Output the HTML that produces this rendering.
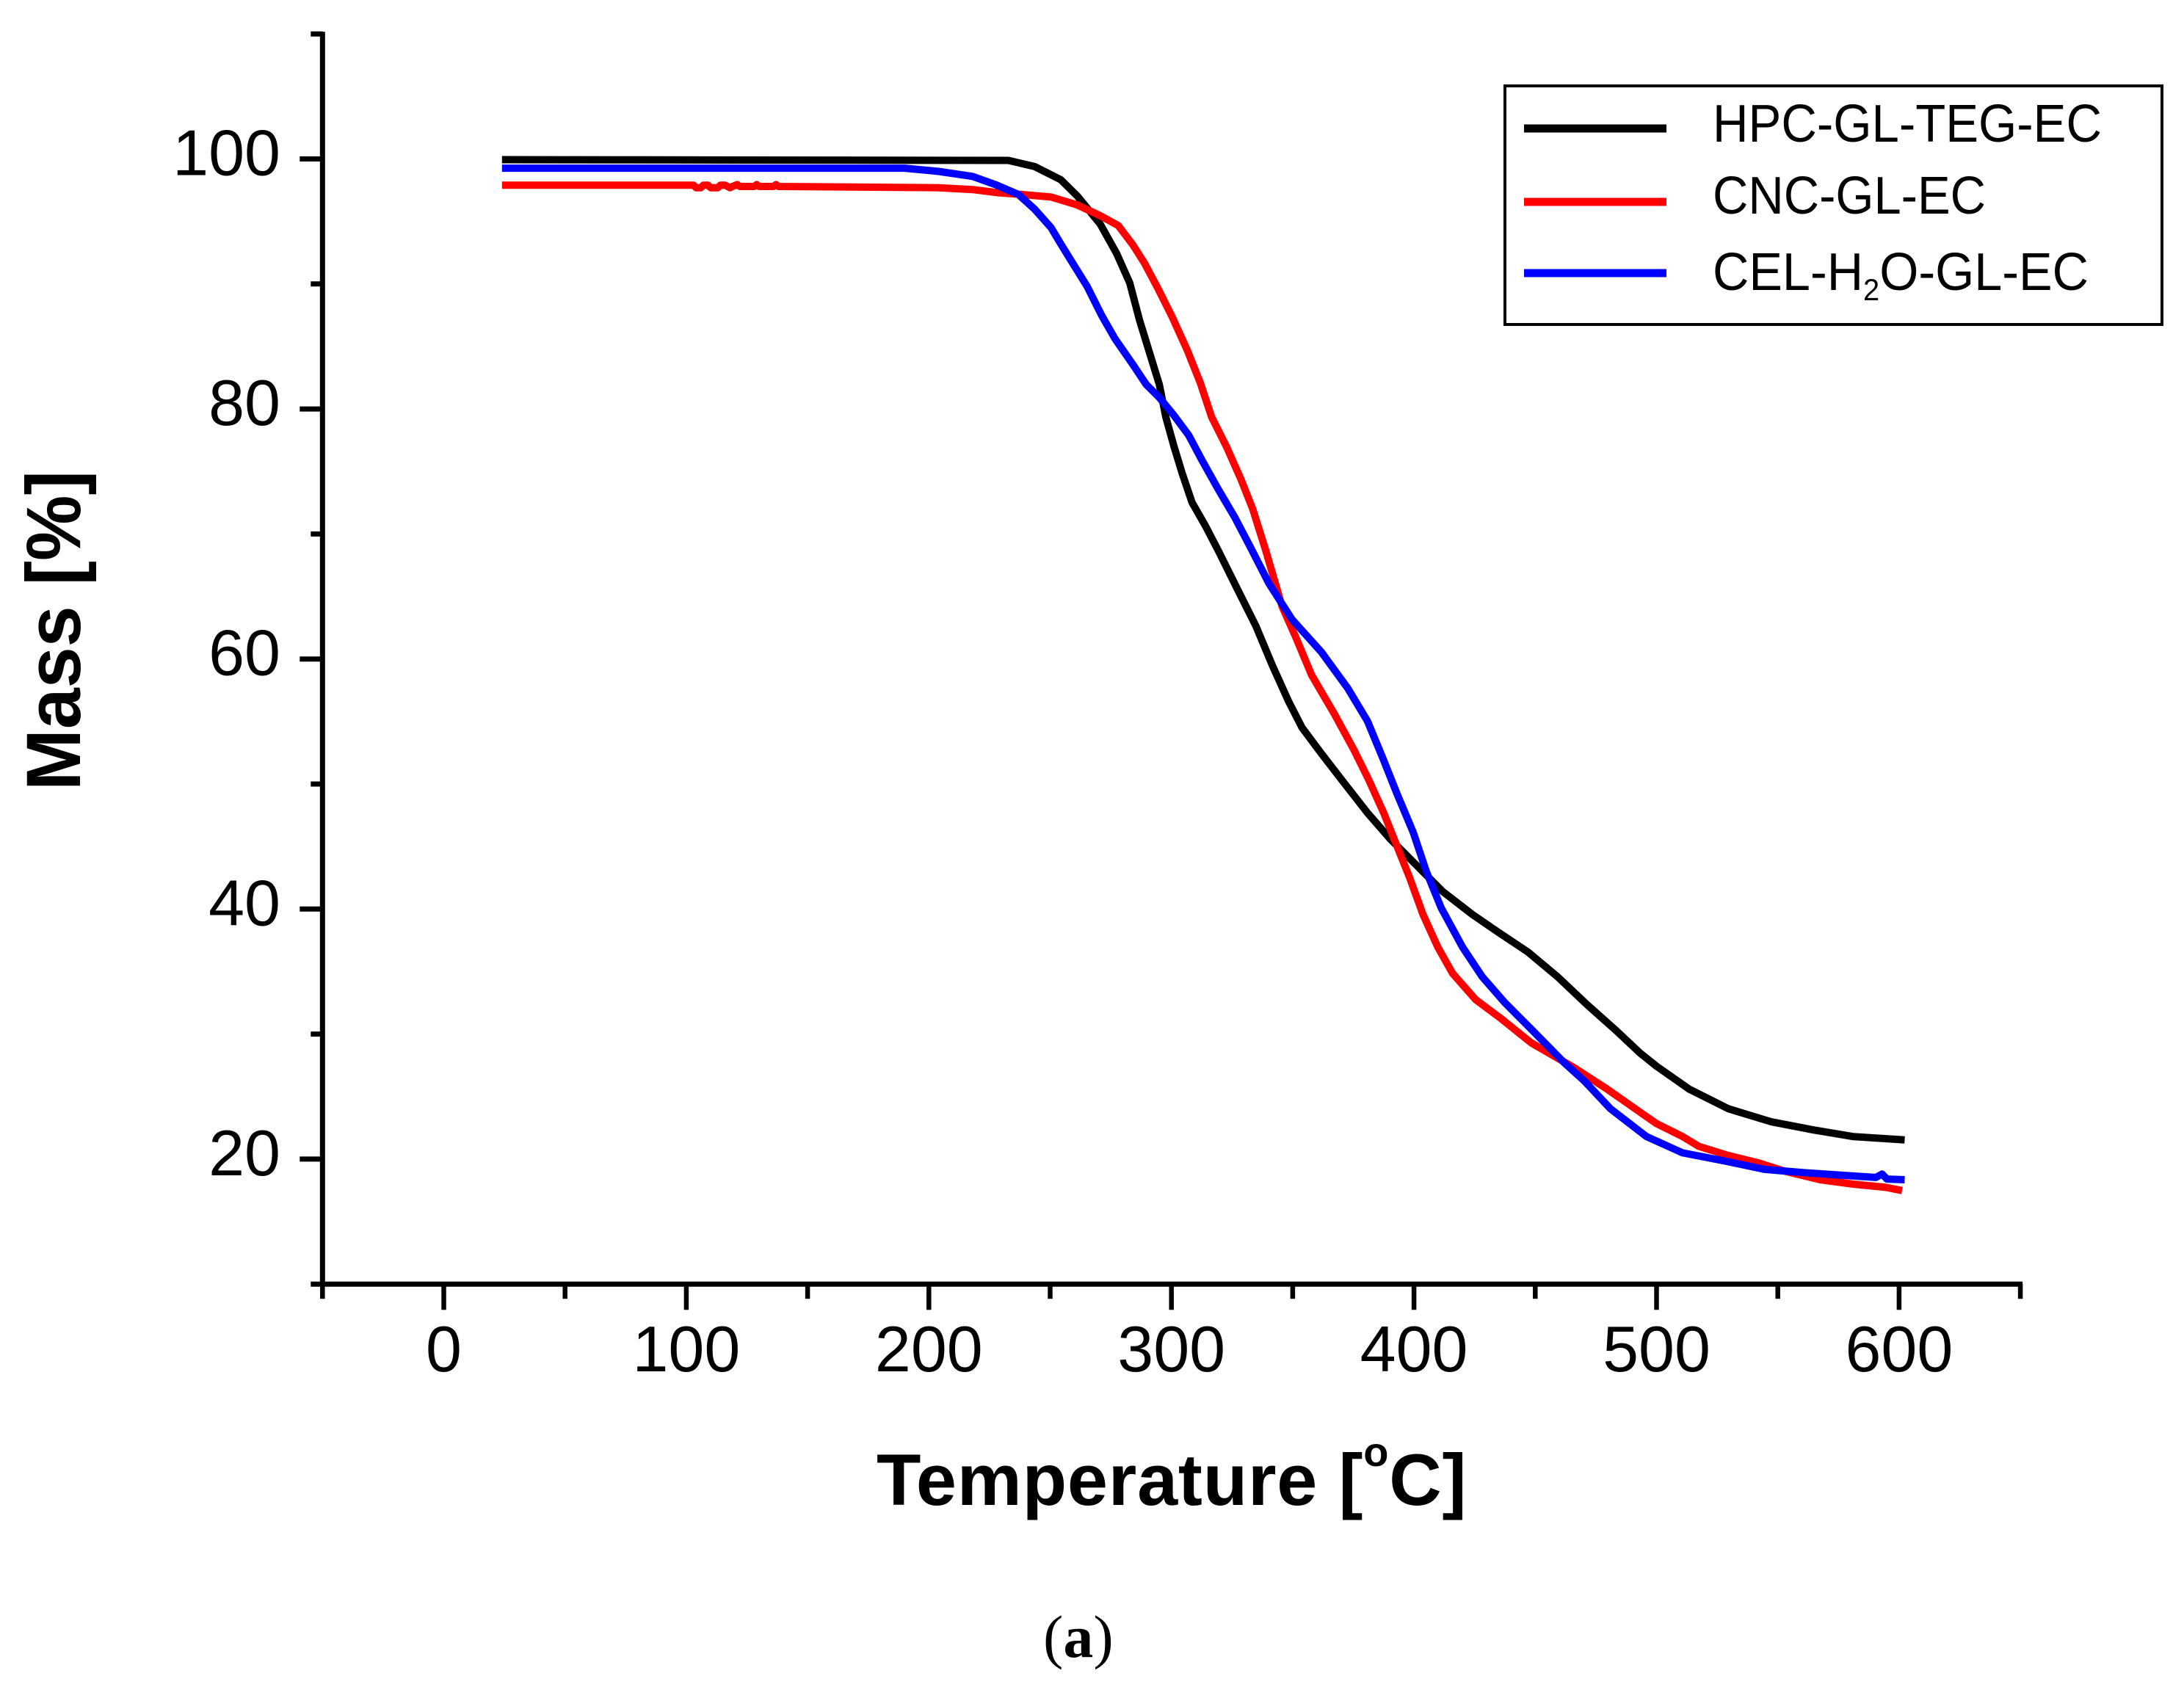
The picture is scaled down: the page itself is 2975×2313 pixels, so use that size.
<!DOCTYPE html>
<html lang="en">
<head>
<meta charset="utf-8">
<title>TGA mass loss chart</title>
<style>
html,body{margin:0;padding:0;background:#fff;}
svg{display:block;}
text{font-family:"Liberation Sans",sans-serif;fill:#000;}
</style>
</head>
<body>
<svg id="chart" xmlns="http://www.w3.org/2000/svg" width="2975" height="2313" viewBox="0 0 2975 2313">
  <rect x="0" y="0" width="2975" height="2313" fill="#fff"/>
  <g id="x-ticks"></g>
  <g id="y-ticks"></g>
  <line id="y-axis" stroke="#000" stroke-width="7"/>
  <line id="x-axis" stroke="#000" stroke-width="7"/>
  <g id="series"></g>

  <text transform="translate(109,1077) rotate(-90)" font-size="105" font-weight="bold" textLength="436" lengthAdjust="spacingAndGlyphs">Mass [%]</text>
  <text x="1194" y="2050" font-size="99" font-weight="bold" letter-spacing="0.8">Temperature [<tspan font-size="56" dy="-53">o</tspan><tspan dy="53">C]</tspan></text>

  <g>
    <rect x="2050" y="117" width="895" height="325" fill="#fff" stroke="#000" stroke-width="4"/>
    <line x1="2076" x2="2270" y1="175" y2="175" stroke="#000" stroke-width="11"/>
    <line x1="2076" x2="2270" y1="275" y2="275" stroke="#f00" stroke-width="11"/>
    <line x1="2076" x2="2270" y1="372" y2="372" stroke="#00f" stroke-width="11"/>
    <text x="2333" y="193" font-size="72" textLength="530" lengthAdjust="spacingAndGlyphs">HPC-GL-TEG-EC</text>
    <text x="2333" y="291" font-size="72" textLength="372" lengthAdjust="spacingAndGlyphs">CNC-GL-EC</text>
    <text x="2333" y="395" font-size="72" textLength="512" lengthAdjust="spacingAndGlyphs">CEL-H<tspan font-size="42" dy="14">2</tspan><tspan dy="-14">O-GL-EC</tspan></text>
  </g>

  <text x="1421" y="2257" font-size="82" style="font-family:'Liberation Serif',serif">(<tspan font-weight="bold">a</tspan>)</text>
</svg>
<script>
// Data
const xMajorTicks = [0, 100, 200, 300, 400, 500, 600];
const xMinorTicks = [-50, 50, 150, 250, 350, 450, 550, 650];
const yMajorTicks = [20, 40, 60, 80, 100];
const yMinorTicks = [10, 30, 50, 70, 90, 110];

const hpcTemp = [24,232.8,243.6,254.4,261.2,270.6,277.4,282.8,286.9,289.6,295,297.7,301.1,304.4,308.5,313.9,319.3,326.7,334.8,341.6,348.3,353.8,361.9,371.3,380.8,390.2,401,411.8,424,434.8,447,459.1,471.3,483.4,493.1,499.9,513.4,529.6,547.2,564.7,581,602.3];
const hpcMass = [99.94,99.88,99.39,98.34,97.03,94.8,92.44,90.08,87.07,85.37,81.96,79.34,76.98,74.88,72.52,70.69,68.67,65.79,62.64,59.5,56.61,54.52,52.42,50.06,47.7,45.61,43.51,41.41,39.58,38.14,36.56,34.6,32.36,30.27,28.5,27.44,25.6,24.03,22.99,22.33,21.8,21.54];

const cncTemp = [24,103,104,106,107,109,110,113,114,116,118,119,121,122,128,129,130,136,137,138,204,218,228.8,238.2,250.4,261.2,270.6,278.1,284.2,288.9,294.3,300.4,306.5,311.9,316.6,322.7,328.7,333.5,338.9,345.6,351,357.8,367.3,375.4,381.4,387.5,392.9,398.3,403.7,409.8,415.9,425.4,436.2,448.3,466.1,479.6,493.1,499.9,510.7,517.4,529.6,541.8,552.6,567.4,581,594.5,601.2];
const cncMass = [97.9,97.9,97.7,97.7,97.9,97.9,97.7,97.7,97.9,97.9,97.7,97.8,97.95,97.8,97.8,97.95,97.8,97.8,97.95,97.8,97.7,97.55,97.29,97.16,96.95,96.32,95.46,94.67,93.1,91.66,89.69,87.33,84.71,82.09,79.34,76.98,74.36,72,68.67,64.21,61.86,58.71,55.56,52.68,50.32,47.7,45.08,42.46,39.58,36.96,34.86,32.76,31.19,29.3,27.3,25.6,23.77,22.85,21.81,21.02,20.29,19.71,19.05,18.35,18,17.74,17.48];

const celTemp = [24,190,204,218,227.4,236.9,243.6,250.4,254.4,259.8,265.2,271.3,276.7,284.2,289.6,295,301.1,307.1,312.5,319.3,326.1,332.8,340.2,349.7,361.9,372.7,380.8,387.5,392.9,399.7,405.1,411.2,420,428.1,437.5,448.3,462,470.2,481,495.8,510.7,528.3,544.5,560.7,574.2,590.4,593,595,602.3];
const celMass = [99.26,99.26,99,98.6,97.95,97.16,95.98,94.5,93.2,91.5,89.82,87.46,85.63,83.53,81.96,80.91,79.47,77.9,75.93,73.57,71.34,68.85,66.05,63.17,60.54,57.66,55.04,51.9,49.27,46.13,42.99,40.1,36.96,34.6,32.5,30.4,27.7,26.26,24.03,21.81,20.5,19.84,19.18,18.92,18.74,18.53,18.8,18.4,18.35];

const SVGNS = 'http://www.w3.org/2000/svg';

// Axis functions
function xScale(t) { return 604.5 + t * 3.304; }
function yScale(m) { return 216.5 + (100 - m) * 17.03; }

function makeLine(x1, y1, x2, y2, width) {
  const l = document.createElementNS(SVGNS, 'line');
  l.setAttribute('x1', x1);
  l.setAttribute('y1', y1);
  l.setAttribute('x2', x2);
  l.setAttribute('y2', y2);
  l.setAttribute('stroke', '#000');
  l.setAttribute('stroke-width', width);
  return l;
}

const xAxisY = yScale(10);
const yAxisX = xScale(-50);

const yAxisLine = document.getElementById('y-axis');
yAxisLine.setAttribute('x1', yAxisX);
yAxisLine.setAttribute('x2', yAxisX);
yAxisLine.setAttribute('y1', yScale(110) - 3);
yAxisLine.setAttribute('y2', xAxisY + 3);

const xAxisLine = document.getElementById('x-axis');
xAxisLine.setAttribute('x1', yAxisX - 3);
xAxisLine.setAttribute('x2', xScale(650) + 3);
xAxisLine.setAttribute('y1', xAxisY);
xAxisLine.setAttribute('y2', xAxisY);

const xGroup = document.getElementById('x-ticks');
xMajorTicks.forEach(function (t) {
  const tick = makeLine(xScale(t), xAxisY, xScale(t), xAxisY + 35, 6.5);
  
  
  xGroup.appendChild(tick);
  const label = document.createElementNS(SVGNS, 'text');
  
  
  label.setAttribute('x', xScale(t));
  label.setAttribute('y', 1868);
  label.setAttribute('font-size', '88');
  label.setAttribute('text-anchor', 'middle');
  label.textContent = String(t);
  xGroup.appendChild(label);
});
xMinorTicks.forEach(function (t) {
  const tick = makeLine(xScale(t), xAxisY, xScale(t), xAxisY + 20, 6.5);
  
  
  xGroup.appendChild(tick);
});

const yGroup = document.getElementById('y-ticks');
yMajorTicks.forEach(function (m) {
  const tick = makeLine(yAxisX - 31, yScale(m), yAxisX, yScale(m), 7);
  
  
  yGroup.appendChild(tick);
  const label = document.createElementNS(SVGNS, 'text');
  
  
  label.setAttribute('x', 382);
  label.setAttribute('y', yScale(m) + 22);
  label.setAttribute('font-size', '88');
  label.setAttribute('text-anchor', 'end');
  label.textContent = String(m);
  yGroup.appendChild(label);
});
yMinorTicks.forEach(function (m) {
  const tick = makeLine(yAxisX - 16, yScale(m), yAxisX, yScale(m), 7);
  
  
  yGroup.appendChild(tick);
});

function drawSeries(temps, masses, color) {
  const pts = temps.map(function (t, i) {
    return xScale(t).toFixed(1) + ',' + yScale(masses[i]).toFixed(1);
  }).join(' ');
  const line = document.createElementNS(SVGNS, 'polyline');
  line.setAttribute('points', pts);
  line.setAttribute('fill', 'none');
  line.setAttribute('stroke', color);
  line.setAttribute('stroke-width', '10');
  line.setAttribute('stroke-linejoin', 'round');
  return line;
}

const seriesGroup = document.getElementById('series');

const hpcLine = drawSeries(hpcTemp, hpcMass, '#000');


seriesGroup.appendChild(hpcLine);

const cncLine = drawSeries(cncTemp, cncMass, '#f00');


seriesGroup.appendChild(cncLine);

const celLine = drawSeries(celTemp, celMass, '#00f');


seriesGroup.appendChild(celLine);
</script>
</body>
</html>
